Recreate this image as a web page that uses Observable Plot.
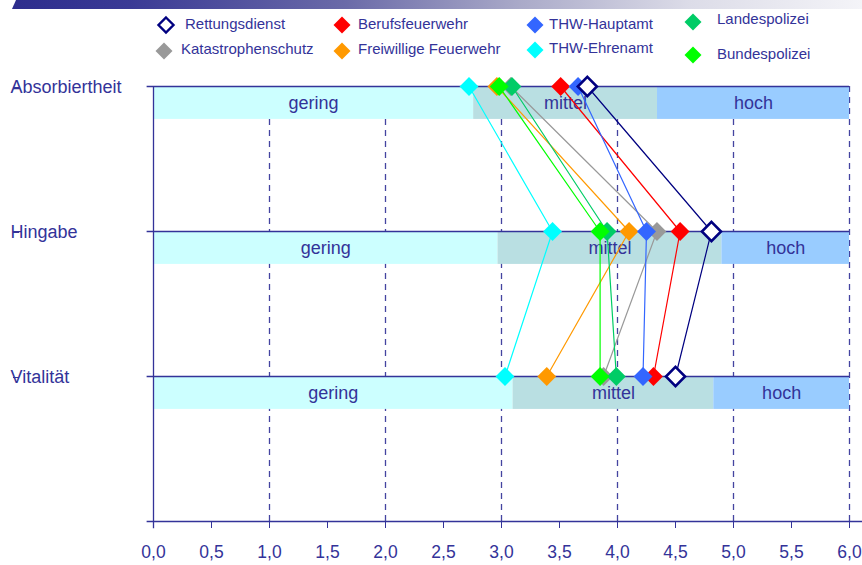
<!DOCTYPE html>
<html>
<head>
<meta charset="utf-8">
<script src="https://cdn.jsdelivr.net/npm/d3@7"></script>
<script src="https://cdn.jsdelivr.net/npm/@observablehq/plot@0.6"></script>
<style>
  html, body { margin: 0; padding: 0; background: #fff; }
  body { width: 862px; height: 565px; position: relative; overflow: hidden; font-family: "Liberation Sans", Arial, sans-serif; }
  #bar { position: absolute; left: 0; top: 0; width: 862px; height: 9px;
    background: linear-gradient(to right, #2c2c8c 0%, #3a3a95 15%, #6a6aa8 40%, #a9a9c8 60%, #dcdce8 80%, #f4f4f8 100%);
    clip-path: polygon(16px 0, 100% 0, 100% 100%, 12px 100%); }
  #chart { position: absolute; left: 0; top: 0; }
  #legend { position: absolute; left: 0; top: 0; width: 862px; height: 70px; pointer-events: none; }
  .mk { position: absolute; width: 20px; height: 20px; }
  .lt { position: absolute; font-size: 15px; line-height: 20px; height: 20px; color: #333399; white-space: nowrap; }
</style>
</head>
<body>
<div id="chart"></div>
<div id="bar"></div>
<div id="legend"></div>
<script>
// ---- data ----
const rows = ["Absorbiertheit", "Hingabe", "Vitalität"];
const levels = ["gering", "mittel", "hoch"];
const levelColors = ["#ccffff", "#b9dfe2", "#99ccff"];
// band boundaries per row: [start gering, start mittel, start hoch, end]
const breaksAbsorbiertheit = [0, 2.76, 4.345, 6];
const breaksHingabe = [0, 2.97, 4.90, 6];
const breaksVitalitaet = [0, 3.10, 4.83, 6];

const seriesNames = ["Rettungsdienst", "Berufsfeuerwehr", "THW-Hauptamt", "Landespolizei",
  "Katastrophenschutz", "Freiwillige Feuerwehr", "THW-Ehrenamt", "Bundespolizei"];
const seriesColors = ["#000080", "#ff0000", "#3366ff", "#00cc66", "#999999", "#ff9900", "#00ffff", "#00ff00"];
// values: [Absorbiertheit, Hingabe, Vitalität]
const rettungsdienst = [3.74, 4.81, 4.50];
const berufsfeuerwehr = [3.51, 4.54, 4.31];
const thwHauptamt = [3.66, 4.25, 4.22];
const landespolizei = [3.09, 3.91, 3.99];
const katastrophenschutz = [3.08, 4.34, 3.88];
const freiwilligeFeuerwehr = [2.96, 4.10, 3.39];
const thwEhrenamt = [2.72, 3.44, 3.03];
const bundespolizei = [2.98, 3.85, 3.85];

const xTicks = [0, 0.5, 1, 1.5, 2, 2.5, 3, 3.5, 4, 4.5, 5, 5.5, 6];
const gridLines = [1, 2, 3, 4, 5, 6];

// ---- build tables ----
const seriesValues = [rettungsdienst, berufsfeuerwehr, thwHauptamt, landespolizei,
  katastrophenschutz, freiwilligeFeuerwehr, thwEhrenamt, bundespolizei];
const drawOrder = ["Katastrophenschutz", "Berufsfeuerwehr", "Freiwillige Feuerwehr", "THW-Hauptamt",
  "THW-Ehrenamt", "Landespolizei", "Bundespolizei", "Rettungsdienst"];
const points = [];
for (const name of drawOrder) {
  const vals = seriesValues[seriesNames.indexOf(name)];
  rows.forEach((r, i) => points.push({series: name, row: i, value: vals[i]}));
}
const allBreaks = [breaksAbsorbiertheit, breaksHingabe, breaksVitalitaet];
const bands = [];
allBreaks.forEach((b, i) => {
  levels.forEach((lv, j) => bands.push({row: i, level: lv, x1: b[j], x2: b[j + 1], color: levelColors[j]}));
});
const BAND = 0.227;
const TXT = "#333399";

const plot = Plot.plot({
  width: 862,
  height: 565,
  marginLeft: 153,
  marginRight: 13,
  marginTop: 86,
  marginBottom: 44,
  style: {fontFamily: "'Liberation Sans', Arial, sans-serif", background: "transparent", overflow: "visible"},
  x: {domain: [0, 6]},
  y: {domain: [3, 0]},
  color: {domain: seriesNames, range: seriesColors},
  marks: [
    Plot.ruleX(gridLines, {y1: 0, y2: 3, stroke: "#4444a0", strokeWidth: 1.3, strokeDasharray: "6,5"}),
    Plot.rectX(bands, {x1: "x1", x2: "x2", y1: d => d.row, y2: d => d.row + BAND, fill: d => d.color}),
    Plot.text(bands, {x: d => (d.x1 + d.x2) / 2, y: d => d.row + BAND / 2, text: "level", fill: TXT, fontSize: 18}),
    Plot.ruleX([0], {y1: 0, y2: 3.05, stroke: TXT, strokeWidth: 1.3}),
    Plot.ruleY([0, 1, 2], {x1: -0.055, x2: 6, stroke: TXT, strokeWidth: 1.5}),
    Plot.ruleY([3], {x1: -0.055, x2: 6.12, stroke: TXT, strokeWidth: 1.5}),
    Plot.line(points, {x: "value", y: "row", z: "series", stroke: "series", strokeWidth: 1.2}),
    Plot.dot(points.filter(d => d.series !== "Rettungsdienst"), {x: "value", y: "row", symbol: "diamond2", r: 8.5, fill: "series", stroke: null}),
    Plot.dot(points.filter(d => d.series === "Rettungsdienst"), {x: "value", y: "row", symbol: "diamond2", r: 8.6, fill: "white", stroke: "#000080", strokeWidth: 2.6}),
    Plot.axisX({ticks: xTicks, tickFormat: d => d.toFixed(1).replace(".", ","), tickSize: 7, tickPadding: 17, fontSize: 17.5, color: TXT, label: null}),
    Plot.axisY({ticks: [0, 1, 2], tickFormat: i => rows[i], tickSize: 6, tickPadding: 3, textAnchor: "start", dx: -134, dy: 1, fontSize: 18, color: TXT, label: null})
  ]
});
document.getElementById("chart").appendChild(plot);

// ---- legend (HTML) ----
// [marker centre x, marker centre y, text left x, text centre y]
const legendLayout = {
  "Rettungsdienst": [166, 25, 185, 24], "Berufsfeuerwehr": [342, 25, 358, 24],
  "THW-Hauptamt": [535, 25, 549, 24], "Landespolizei": [693, 22, 717, 19],
  "Katastrophenschutz": [164, 51, 181, 49], "Freiwillige Feuerwehr": [342, 51, 358, 49],
  "THW-Ehrenamt": [535, 50, 549, 48], "Bundespolizei": [693, 55, 717, 54]
};
const leg = document.getElementById("legend");
seriesNames.forEach((name, i) => {
  const [cx, cy, tx, ty] = legendLayout[name];
  const hollow = name === "Rettungsdienst";
  const s = hollow ? 7.5 : 8.5;
  const mk = document.createElement("div");
  mk.className = "mk";
  mk.style.left = (cx - 10) + "px";
  mk.style.top = (cy - 10) + "px";
  mk.innerHTML = `<svg width="20" height="20" viewBox="-10 -10 20 20"><path d="M0,${-s}L${s},0L0,${s}L${-s},0Z" fill="${hollow ? "white" : seriesColors[i]}" ${hollow ? 'stroke="#000080" stroke-width="2.4"' : ""}/></svg>`;
  leg.appendChild(mk);
  const t = document.createElement("div");
  t.className = "lt";
  t.style.left = tx + "px";
  t.style.top = (ty - 10) + "px";
  t.textContent = name;
  leg.appendChild(t);
});
</script>
</body>
</html>
